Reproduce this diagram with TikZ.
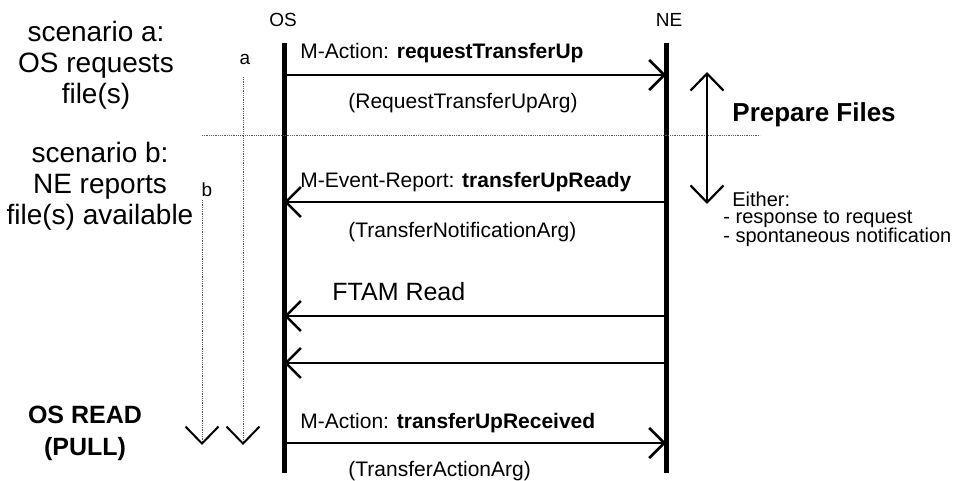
\documentclass[tikz,border=0pt]{standalone}
\usepackage{fontspec}
\setmainfont{Liberation Sans}
\usetikzlibrary{arrows.meta}
\tikzset{
	every path/.style={thick},
	align=center,
	lifeline/.style={
		line width=5pt,
	},
	msg/.style={
		line width=2.6pt,
		-{Straight Barb[length=15pt,width=30pt]}
	},
	span/.style={
		line width=2.2pt,
		{Straight Barb[length=17pt,width=33pt]}-{Straight Barb[length=17pt,width=33pt]}
	},
	flow/.style={
		densely dotted,
		line width=0.7pt,
		draw=black!65,
		-{Straight Barb[length=17pt,width=33pt,line width=2pt,color=black]}
	},
	divider/.style={densely dotted, line width=0.7pt, draw=black!65},
	actor/.style={font=\fontsize{19}{21}\selectfont, anchor=base, inner sep=0pt},
	msglbl/.style={font=\fontsize{21}{23}\selectfont, anchor=base west, inner sep=0pt},
	biglbl/.style={font=\fontsize{25}{27}\selectfont, anchor=base west, inner sep=0pt},
	scen/.style={font=\fontsize{28}{31}\selectfont, anchor=base, inner sep=0pt},
	note/.style={font=\fontsize{20}{18}\selectfont, anchor=base west, align=left, inner sep=0pt},
}

\begin{document}
\begin{tikzpicture}[x=1pt,y=-1pt]
	\useasboundingbox (0,0) rectangle (956,481);

	% lifelines
	\node[actor] (os) at (283,27) {OS};
	\node[actor] (ne) at (669,27) {NE};
	\coordinate (ostop) at (284,43);
	\coordinate (osbot) at (284,473);
	\coordinate (netop) at (666,43);
	\coordinate (nebot) at (666,473);
	\draw[lifeline] (ostop) -- (osbot);
	\draw[lifeline] (netop) -- (nebot);

	\foreach \y [count=\i] in {75,202,316,363,443} {
		\coordinate (os\i) at (284,\y);
		\coordinate (ne\i) at (666,\y);
	}

	% scenarios (base = last line)
	\node[scen] (scena) at (96,104) {scenario a:\\OS requests\\file(s)};
	\node[scen] (scenb) at (100,225) {scenario b:\\NE reports\\file(s) available};
	\node[scen,font=\fontsize{25}{32}\selectfont\bfseries] (pull) at (85,455) {OS READ\\(PULL)};

	\coordinate (sepL) at (202,135);
	\coordinate (sepR) at (760,135);
	\draw[divider] (sepL) -- (sepR);

	\node[actor] (alabel) at (245,65) {a};
	\node[actor] (blabel) at (207,197) {b};
	\coordinate (astart) at (243,77);
	\coordinate (aend) at (243,445);
	\coordinate (bstart) at (202,200);
	\coordinate (bend) at (202,445);
	\draw[flow] (astart) -- (aend);
	\draw[flow] (bstart) -- (bend);

	% messages
	\node[msglbl] (req) at (300,59) {M-Action: \textbf{requestTransferUp}};
	\node[msglbl] (reqarg) at (348,109) {(RequestTransferUpArg)};
	\node[msglbl] (rdy) at (300,188) {M-Event-Report: \textbf{transferUpReady}};
	\node[msglbl] (rdyarg) at (348,237) {(TransferNotificationArg)};
	\node[biglbl] (ftam) at (332,300) {FTAM Read};
	\node[msglbl] (rcv) at (300,428) {M-Action: \textbf{transferUpReceived}};
	\node[msglbl] (rcvarg) at (348,476) {(TransferActionArg)};

	\draw[msg] (os1) -- (ne1);
	\draw[msg] (ne2) -- (os2);
	\draw[msg] (ne3) -- (os3);
	\draw[msg] (ne4) -- (os4);
	\draw[msg] (os5) -- (ne5);

	% preparation
	\coordinate (preptop) at (707,72);
	\coordinate (prepbot) at (707,204);
	\draw[span] (preptop) -- (prepbot);
	\node[biglbl,font=\fontsize{26}{28}\selectfont\bfseries] (prep) at (732,122) {Prepare Files};
	\node[note] (either) at (732,207) {Either:};
	\node[note] (cases) at (723,243) {- response to request\\- spontaneous notification};
\end{tikzpicture}
\end{document}
